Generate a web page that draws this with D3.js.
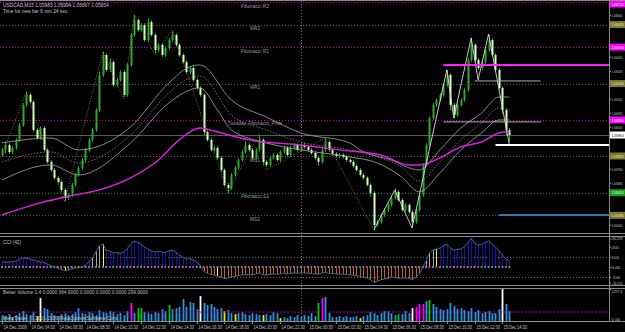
<!DOCTYPE html>
<html>
<head>
<meta charset="utf-8">
<script src="https://cdn.jsdelivr.net/npm/d3@7"></script>
<style>
    body { margin: 0; background: #000; }
    svg { display: block; }
    text { font-family: "Liberation Sans Narrow", "Liberation Sans", sans-serif; font-size: 4.8px; fill: #c0c0c0; }
</style>
</head>
<body>
<div id="chart"></div>
<script>
// USDCAD M15, 14-15 Dec 2009
const firstOpen = 1.05840;
const closes = [
    1.05869,1.05897,1.05857,1.05880,1.05926,1.06011,1.06126,1.06183,1.06143,1.05983,
    1.05937,1.05994,1.05869,1.05800,1.05754,1.05709,1.05686,1.05640,1.05594,1.05611,
    1.05669,1.05726,1.05766,1.05811,1.05869,1.05926,1.05983,1.06097,1.06297,1.06411,
    1.06326,1.06371,1.06240,1.06269,1.06314,1.06183,1.06354,1.06526,1.06611,1.06554,
    1.06583,1.06497,1.06600,1.06526,1.06440,1.06469,1.06411,1.06451,1.06497,1.06526,
    1.06469,1.06411,1.06371,1.06314,1.06337,1.06269,1.06223,1.06183,1.05971,1.05926,
    1.05869,1.05880,1.05823,1.05754,1.05669,1.05651,1.05726,1.05766,1.05811,1.05857,
    1.05897,1.05869,1.05823,1.05869,1.05926,1.05800,1.05783,1.05823,1.05840,1.05811,
    1.05857,1.05880,1.05840,1.05880,1.05897,1.05869,1.05897,1.05886,1.05869,1.05851,
    1.05823,1.05800,1.05869,1.05914,1.05869,1.05846,1.05834,1.05840,1.05829,1.05811,
    1.05800,1.05777,1.05754,1.05726,1.05709,1.05669,1.05623,1.05440,1.05457,1.05497,
    1.05526,1.05554,1.05594,1.05629,1.05583,1.05526,1.05554,1.05514,1.05457,1.05526,
    1.05611,1.05783,1.05897,1.06051,1.06126,1.06154,1.06183,1.06240,1.06297,1.06126,
    1.06069,1.06126,1.06154,1.06211,1.06383,1.06469,1.06383,1.06337,1.06371,1.06440,
    1.06497,1.06411,1.06326,1.06223,1.06097,1.05983,1.05954
];
// wick lengths above / below the body, in pips
const upWick = [
    1,2,1,1,1,1,1,2,1,1, 1,1,1,1,1,1,1,1,1,1, 1,1,1,1,1,1,1,1,2,2,
    1,2,1,1,1,1,1,1,3,1, 1,1,2,1,1,1,1,1,1,2, 1,1,1,1,1,1,1,1,1,1,
    1,1,1,1,1,1,1,1,1,1, 2,1,1,1,2,1,1,1,1,1, 1,1,1,1,1,1,1,1,1,1,
    1,1,1,2,1,1,1,1,1,1, 1,1,1,1,1,1,1,1,1,1, 1,1,1,2,1,1,1,1,1,1,
    1,1,1,1,1,1,1,1,3,1, 1,1,1,1,1,4,1,1,1,1, 3,1,1,1,1,1,1
];
const dnWick = [
    1,2,1,1,1,1,1,1,1,1, 1,1,1,1,1,1,1,1,2,1, 1,1,1,1,1,1,1,1,1,1,
    1,1,1,1,1,1,1,1,1,1, 1,1,1,1,2,1,1,1,1,1, 1,1,1,1,1,1,1,1,2,1,
    1,1,1,1,1,3,1,1,1,1, 1,1,1,1,1,2,1,1,1,1, 1,1,1,1,1,1,1,1,1,1,
    1,2,1,1,1,1,1,1,1,1, 1,1,1,1,1,1,2,3,1,1, 1,1,1,1,1,1,1,1,3,1,
    1,1,1,1,1,1,1,1,1,3, 2,1,1,1,1,1,1,1,1,1, 1,1,1,1,2,3,4
];
const cci = [
    50,50,48,52,60,75,90,88,80,70, 60,50,45,30,15,5,-10,-25,-35,-30,
    -20,-10,-5,0,20,50,90,150,210,230, 170,160,140,145,135,150,180,230,260,250,
    230,200,180,160,150,155,150,145,160,170, 150,120,100,80,85,70,50,20,-40,-60,
    -75,-80,-90,-100,-115,-110,-100,-95,-85,-80, -75,-78,-80,-70,-60,-75,-80,-75,-70,-72,
    -68,-65,-70,-62,-60,-62,-58,-60,-62,-65, -70,-72,-60,-55,-62,-65,-68,-70,-72,-75,
    -78,-82,-88,-95,-100,-110,-125,-156,-140,-130, -120,-115,-100,-105,-112,-110,-108,-115,-125,-105,
    -70,-10,60,140,170,180,190,210,230,190, 170,175,180,200,240,286,240,220,225,245,
    260,230,200,160,120,80,55
];
const cciYellow = [18, 29, 62, 125];
const cciGray = [26, 27, 28, 121, 122, 123, 124];
const volume = [
    240,200,280,160,240,320,400,280,240,360, 200,930,520,480,320,240,200,280,320,240,
    280,360,520,320,280,360,320,240,440,360, 320,400,360,280,320,240,400,730,320,520,
    520,360,320,280,360,320,480,400,650,480, 520,570,890,570,770,730,480,1010,730,650,
    690,570,480,520,400,440,320,280,320,360, 280,240,320,280,240,240,280,240,360,320,
    120,160,120,200,160,240,160,240,200,320, 200,730,930,970,320,160,160,200,160,200,
    160,160,200,120,200,240,360,320,240,320, 400,400,320,240,280,280,400,320,520,570,
    690,690,810,850,690,570,480,440,480,730, 610,480,520,440,400,520,360,440,320,360,
    400,320,320,480,1297.6,690,400
];
const volWhite = [11, 57, 118, 144];
const volYellow = [10, 64, 67, 75, 80, 103];
const volGreen = [39, 40, 48, 91, 114, 123];
const volMagenta = [37, 92, 119, 120, 121];
const volAverage = 364;

// moving averages, [bar, price] points
const maSlow = [[0,1.05497],[11,1.05566],[18,1.05600],[28,1.05640],[37,1.05709],[45,1.05811],[51,1.05926],
    [57,1.05994],[61,1.05977],[71,1.05926],[86,1.05897],[97,1.05869],[109,1.05840],[117,1.05783],
    [120,1.05783],[126,1.05823],[132,1.05886],[138,1.05914],[143,1.05966],[146,1.05977]];
const maUpper = [[0,1.05909],[14,1.05937],[22,1.05869],[37,1.06000],[48,1.06251],[54,1.06343],[57,1.06354],
    [66,1.06154],[76,1.06057],[86,1.05966],[100,1.05909],[103,1.05869],[112,1.05811],[120,1.05754],
    [126,1.05869],[132,1.05994],[138,1.06080],[143,1.06171],[146,1.06171]];
const maMiddle = [[0,1.05800],[14,1.05857],[22,1.05794],[37,1.05954],[48,1.06194],[54,1.06280],[57,1.06291],
    [66,1.06069],[76,1.05983],[86,1.05914],[100,1.05869],[108,1.05829],[115,1.05771],[120,1.05691],
    [126,1.05800],[132,1.05926],[138,1.06023],[143,1.06109],[146,1.06097]];
const maLower = [[0,1.05697],[14,1.05783],[22,1.05726],[37,1.05909],[48,1.06137],[54,1.06211],[57,1.06223],
    [62,1.06097],[66,1.05983],[76,1.05909],[86,1.05869],[100,1.05829],[108,1.05794],[115,1.05714],
    [120,1.05629],[126,1.05737],[132,1.05869],[138,1.05966],[143,1.06040],[146,1.06040]];

const zigzagOld = [[0,1.05840],[7,1.06200],[18,1.05571],[29,1.06429],[35,1.06160],[38,1.06640],[44,1.06411],
    [49,1.06554],[65,1.05623],[74,1.05960],[76,1.05754],[93,1.05937],[107,1.05411]];
const zigzagNew = [[107,1.05411],[113,1.05640],[118,1.05423],[128,1.06326],[130,1.06051],[135,1.06509],
    [137,1.06269],[140,1.06531],[146,1.05897]];

// pivot levels for Tuesday
const pivotNames = ["Fibonacci R2", "MR2", "Fibonacci R1", "MR1", "Tuesday, Fibonacci_Pivot", "MS1", "Fibonacci S1", "MS2"];
const pivotPrices = [1.06714, 1.06585, 1.06456, 1.06248, 1.06040, 1.05834, 1.05624, 1.05495];
const pivotKinds = ["r", "m", "r", "m", "r", "m", "s", "m"];

// horizontal objects drawn to the right: [start bar, end bar (null = axis), price, kind]
const levels = [[127, 155, 1.06029, "gray"], [136, 155, 1.06263, "gray"], [127, null, 1.06354, "magenta"],
    [142, null, 1.05897, "white"], [143, null, 1.05497, "blue"]];
const bid = 1.05954;

const priceTicks = [1.0544,1.0552,1.0560,1.0568,1.0576,1.0584,1.0592,1.0600,1.0608,1.0616,1.0624,1.0632,1.0640,1.0648,1.0656,1.0664];
const cciTicks = [286.2399, 200, 100, 0, -100, -156.557];
const cciTickLabels = ["286.2399", "200", "100", "0.00", "-100", "-156.5570"];
const volTicks = [1297.6, 0];
const volTickLabels = ["1297.6", "0.00"];
const timeLabels = ["14 Dec 2009","14 Dec 04:30","14 Dec 06:30","14 Dec 08:30","14 Dec 10:30","14 Dec 12:30",
    "14 Dec 14:30","14 Dec 16:30","14 Dec 18:30","14 Dec 20:30","14 Dec 22:30","15 Dec 00:30","15 Dec 02:30",
    "15 Dec 04:30","15 Dec 06:30","15 Dec 08:30","15 Dec 10:30","15 Dec 12:30","15 Dec 14:30"];
const daySeparatorBar = 85.9;

class MtChart {
    constructor(parentElement) {
        this.parentElement = parentElement;
        this.initVis();
    }

    initVis() {
        let vis = this;
        vis.width = 625;
        vis.height = 332;
        vis.axisX = 609;

        vis.svg = d3.select("#" + vis.parentElement).append("svg")
            .attr("width", vis.width)
            .attr("height", vis.height);
        vis.svg.append("rect").attr("width", vis.width).attr("height", vis.height).attr("fill", "#000");

        vis.x = d3.scaleLinear().domain([0, 146]).range([2, 509.4]);
        vis.y = d3.scaleLinear().domain([1.05394, 1.06714]).range([233, 2]);
        vis.yCci = d3.scaleLinear().domain([-160, 290]).range([283, 238]);
        vis.yVol = d3.scaleLinear().domain([0, 1297.6]).range([321, 289]);

        let defs = vis.svg.append("defs");
        [["clipMain", 1, 233], ["clipCci", 237, 285], ["clipVol", 289, 321]].forEach(c => {
            defs.append("clipPath").attr("id", c[0]).append("rect")
                .attr("x", 0).attr("y", c[1]).attr("width", vis.axisX).attr("height", c[2] - c[1]);
        });

        vis.main = vis.svg.append("g").attr("clip-path", "url(#clipMain)");
        vis.cciG = vis.svg.append("g").attr("clip-path", "url(#clipCci)");
        vis.volG = vis.svg.append("g").attr("clip-path", "url(#clipVol)");

        vis.drawMain();
        vis.drawCci();
        vis.drawVolume();
        vis.drawFrame();
    }

    // axis labels are squeezed horizontally so 7 digits fit in the 16px margin
    styleAxis(axis) {
        axis.select(".domain").remove();
        axis.selectAll("line").attr("stroke", "#909090");
        axis.selectAll("text")
            .attr("x", 0)
            .attr("transform", function () {
                let w = this.getComputedTextLength();
                let k = Math.min(1, 12 / w);
                return `translate(2.5,0) scale(${k},1)`;
            })
            .style("font-size", "4.4px")
            .style("fill", "#c0c0c0");
    }

    drawMain() {
        let vis = this;
        const pivotColor = {r: "#c000c0", m: "#6e6438", s: "#109010"};

        vis.main.selectAll(".pivot").data(pivotPrices).enter().append("line")
            .attr("x1", 0).attr("x2", vis.axisX)
            .attr("y1", d => Math.round(vis.y(d)) + 0.5).attr("y2", d => Math.round(vis.y(d)) + 0.5)
            .attr("stroke", (d, i) => i === 7 ? "#109010" : pivotColor[pivotKinds[i]])
            .attr("stroke-dasharray", "1,2");

        vis.main.selectAll(".pivot-label").data(pivotNames).enter().append("text")
            .attr("x", 255).attr("y", (d, i) => vis.y(pivotPrices[i]) + 5.5)
            .attr("text-anchor", "middle")
            .style("fill", "#9a9a9a")
            .text(d => d);

        // bid line
        vis.main.append("line")
            .attr("x1", 0).attr("x2", vis.axisX)
            .attr("y1", Math.round(vis.y(bid)) + 0.5).attr("y2", Math.round(vis.y(bid)) + 0.5)
            .attr("stroke", "#5a5a5a");

        let candles = closes.map((c, i) => {
            let o = i === 0 ? firstOpen : closes[i - 1];
            return {
                i: i, o: o, c: c,
                h: Math.max(o, c) + upWick[i] * 0.0001,
                l: Math.min(o, c) - dnWick[i] * 0.0001
            };
        });

        vis.main.selectAll(".wick").data(candles).enter().append("line")
            .attr("x1", d => Math.round(vis.x(d.i)) + 0.5).attr("x2", d => Math.round(vis.x(d.i)) + 0.5)
            .attr("y1", d => vis.y(d.h)).attr("y2", d => vis.y(d.l))
            .attr("stroke", "#2cae2c");

        vis.main.selectAll(".body").data(candles).enter().append("rect")
            .attr("x", d => Math.round(vis.x(d.i)) - 0.5)
            .attr("width", 2)
            .attr("y", d => vis.y(Math.max(d.o, d.c)))
            .attr("height", d => Math.max(1, Math.abs(vis.y(d.o) - vis.y(d.c))))
            .attr("fill", d => d.c >= d.o ? "#2fa82f" : "#d6ffc2");

        const curve = d3.line().x(d => vis.x(d[0])).y(d => vis.y(d[1])).curve(d3.curveMonotoneX);
        vis.main.append("path").datum(maUpper).attr("d", curve)
            .attr("fill", "none").attr("stroke", "#a8a8a8").attr("stroke-width", 0.8);
        vis.main.append("path").datum(maMiddle).attr("d", curve)
            .attr("fill", "none").attr("stroke", "#909090").attr("stroke-width", 0.8).attr("stroke-dasharray", "1.5,1.5");
        vis.main.append("path").datum(maLower).attr("d", curve)
            .attr("fill", "none").attr("stroke", "#a8a8a8").attr("stroke-width", 0.8);
        vis.main.append("path").datum(maSlow).attr("d", curve)
            .attr("fill", "none").attr("stroke", "#e020e0").attr("stroke-width", 1.4);

        const straight = d3.line().x(d => vis.x(d[0])).y(d => vis.y(d[1]));
        vis.main.append("path").datum(zigzagOld).attr("d", straight)
            .attr("fill", "none").attr("stroke", "#9a8a30").attr("stroke-width", 0.8).attr("stroke-dasharray", "1,1.5");
        vis.main.append("path").datum(zigzagNew).attr("d", straight)
            .attr("fill", "none").attr("stroke", "#d8d8d8").attr("stroke-width", 0.9);

        const levelStyle = {
            gray: ["#b0b0b0", 1], magenta: ["#ff20ff", 2], white: ["#ffffff", 2], blue: ["#3a9ae8", 1.5]
        };
        vis.main.selectAll(".level").data(levels).enter().append("line")
            .attr("x1", d => vis.x(d[0]))
            .attr("x2", d => d[1] === null ? vis.axisX : vis.x(d[1]))
            .attr("y1", d => vis.y(d[2])).attr("y2", d => vis.y(d[2]))
            .attr("stroke", d => levelStyle[d[3]][0])
            .attr("stroke-width", d => levelStyle[d[3]][1]);

        // coloured price boxes sit over the axis; ticks hidden under them are left out
        let boxes = pivotPrices.map((p, i) => ({p: p, k: pivotKinds[i]})).concat([{p: bid, k: "bid"}]);
        let boxY = boxes.map(b => Math.max(4, vis.y(b.p)));
        let visibleTicks = priceTicks.filter(t => boxY.every(by => Math.abs(vis.y(t) - by) > 6.5));

        let axis = vis.svg.append("g").attr("transform", `translate(${vis.axisX},0)`)
            .call(d3.axisRight(vis.y).tickValues(visibleTicks).tickSize(2).tickFormat(d3.format(".5f")));
        vis.styleAxis(axis);

        const boxStyle = {r: ["#ff00ff", "#ffffff"], m: ["#7c7a30", "#e8e8c0"], s: ["#18a018", "#ffffff"], bid: ["#ffffff", "#000000"]};
        let boxG = vis.svg.selectAll(".box").data(boxes).enter().append("g")
            .attr("transform", (d, i) => `translate(${vis.axisX + 1},${boxY[i] - 3.5})`);
        boxG.append("rect").attr("width", 15).attr("height", 7)
            .attr("fill", d => boxStyle[d.k][0]);
        boxG.append("text").attr("y", 5.2)
            .style("fill", d => boxStyle[d.k][1])
            .style("font-size", "4.4px")
            .text(d => d3.format(".5f")(d.p))
            .attr("transform", function () {
                let k = Math.min(1, 12 / this.getComputedTextLength());
                return `translate(1.5,0) scale(${k},1)`;
            });

        vis.svg.append("text").attr("x", 3).attr("y", 6.5)
            .text("USDCAD,M15  1.05983 1.05994 1.05897 1.05954");
        vis.svg.append("text").attr("x", 3).attr("y", 12.5)
            .text("Time for new bar 6 min 24 sec");
    }

    drawCci() {
        let vis = this;
        let zero = vis.yCci(0);

        [100, -100].forEach(v => {
            vis.cciG.append("line").attr("x1", 0).attr("x2", vis.axisX)
                .attr("y1", Math.round(vis.yCci(v)) + 0.5).attr("y2", Math.round(vis.yCci(v)) + 0.5)
                .attr("stroke", "#6a6a6a").attr("stroke-dasharray", "1,2");
        });

        vis.cciG.selectAll(".cci-bar").data(cci).enter().append("line")
            .attr("x1", (d, i) => Math.round(vis.x(i)) + 0.5).attr("x2", (d, i) => Math.round(vis.x(i)) + 0.5)
            .attr("y1", zero).attr("y2", d => vis.yCci(d))
            .attr("stroke", (d, i) => {
                if (cciYellow.includes(i)) return "#ffff00";
                if (cciGray.includes(i)) return "#a8a8a8";
                return d >= 0 ? "#1414a0" : "#b8602a";
            });

        vis.cciG.append("path").datum(cci)
            .attr("d", d3.line().x((d, i) => vis.x(i)).y(d => vis.yCci(d)))
            .attr("fill", "none").attr("stroke", "#6472b4").attr("stroke-width", 0.8);

        vis.cciG.selectAll(".cci-dot").data(cci).enter().append("rect")
            .attr("x", (d, i) => vis.x(i) - 0.9).attr("y", zero - 1)
            .attr("width", 1.8).attr("height", 2)
            .attr("fill", (d, i) => i % 2 === 0 ? "#20d020" : "#ff10ff");

        let axis = vis.svg.append("g").attr("transform", `translate(${vis.axisX},0)`)
            .call(d3.axisRight(vis.yCci).tickValues(cciTicks).tickSize(2).tickFormat((d, i) => cciTickLabels[i]));
        vis.styleAxis(axis);

        vis.svg.append("text").attr("x", 3).attr("y", 243.5).text("CCI (42)");
    }

    drawVolume() {
        let vis = this;

        vis.volG.selectAll(".vol").data(volume).enter().append("rect")
            .attr("x", (d, i) => Math.round(vis.x(i)) - 0.4)
            .attr("width", 1.8)
            .attr("y", d => vis.yVol(d))
            .attr("height", d => 321 - vis.yVol(d))
            .attr("fill", (d, i) => {
                if (volWhite.includes(i)) return "#ffffff";
                if (volYellow.includes(i)) return "#e8e800";
                if (volGreen.includes(i)) return "#00d000";
                if (volMagenta.includes(i)) return "#ff00ff";
                return "#2c94dc";
            });

        vis.volG.append("line").attr("x1", 0).attr("x2", vis.axisX)
            .attr("y1", vis.yVol(volAverage)).attr("y2", vis.yVol(volAverage))
            .attr("stroke", "#b000b0").attr("stroke-dasharray", "2,1.5");

        let axis = vis.svg.append("g").attr("transform", `translate(${vis.axisX},0)`)
            .call(d3.axisRight(vis.yVol).tickValues(volTicks).tickSize(2).tickFormat((d, i) => volTickLabels[i]));
        vis.styleAxis(axis);
        axis.selectAll(".tick text").attr("dy", (d, i) => i === 0 ? "0.9em" : "-0.1em");

        vis.svg.append("text").attr("x", 3).attr("y", 294)
            .text("Better Volume 1.4 0.0000 364.0000 0.0000 0.0000 0.0000 299.0000");
        vis.svg.append("text").attr("x", 3).attr("y", 319.5)
            .text("MetaTrader, \u00a9 2001-2009 MetaQuotes Software Corp.");
    }

    drawFrame() {
        let vis = this;
        [0.5, 233.5, 236.5, 285.5, 288.5, 321.5].forEach(yy => {
            vis.svg.append("line").attr("x1", 0).attr("x2", vis.width)
                .attr("y1", yy).attr("y2", yy).attr("stroke", "#8a8a8a");
        });
        vis.svg.append("line").attr("x1", vis.axisX + 0.5).attr("x2", vis.axisX + 0.5)
            .attr("y1", 0).attr("y2", 322).attr("stroke", "#8a8a8a");

        // day separator
        let sx = Math.round(vis.x(daySeparatorBar)) + 0.5;
        vis.svg.append("line").attr("x1", sx).attr("x2", sx)
            .attr("y1", 1).attr("y2", 321)
            .attr("stroke", "#707070").attr("stroke-dasharray", "1,2");

        // time axis
        let tg = vis.svg.selectAll(".time").data(timeLabels).enter().append("g")
            .attr("transform", (d, i) => `translate(${Math.round(vis.x(i * 8)) + 0.5},322)`);
        tg.append("line").attr("y1", 0).attr("y2", 2).attr("stroke", "#8a8a8a");
        tg.append("text").attr("y", 7.5)
            .style("font-size", "4.6px")
            .text(d => d)
            .attr("transform", function () {
                let k = Math.min(1, 23.5 / this.getComputedTextLength());
                return `translate(1,0) scale(${k},1)`;
            });
    }
}

new MtChart("chart");
</script>
</body>
</html>
